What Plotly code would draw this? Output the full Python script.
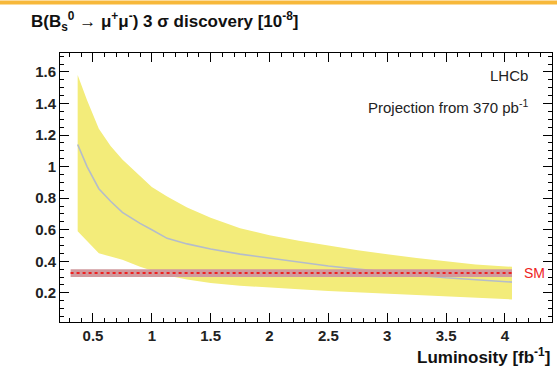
import plotly.graph_objects as go

# Luminosity [fb^-1]
lumi = [0.37, 0.45, 0.55, 0.65, 0.75, 0.9, 1.0, 1.13, 1.3, 1.5, 1.75, 2.0, 2.25, 2.5, 2.75, 3.0, 3.25, 3.5, 3.75, 4.06]
central = [1.14, 1.0, 0.86, 0.78, 0.71, 0.64, 0.6, 0.545, 0.51, 0.478, 0.445, 0.42, 0.395, 0.37, 0.35, 0.33, 0.312, 0.295, 0.282, 0.268]
upper = [1.58, 1.42, 1.24, 1.13, 1.045, 0.94, 0.87, 0.81, 0.74, 0.675, 0.61, 0.565, 0.53, 0.5, 0.47, 0.445, 0.42, 0.4, 0.38, 0.365]
lower = [0.59, 0.53, 0.45, 0.43, 0.41, 0.365, 0.34, 0.31, 0.285, 0.262, 0.245, 0.232, 0.222, 0.212, 0.203, 0.195, 0.185, 0.177, 0.168, 0.158]

# Standard Model prediction band
sm_x = [0.31, 4.06]
sm_center = [0.325, 0.325]
sm_low = [0.30, 0.30]
sm_high = [0.35, 0.35]

x_ticks = [0.5, 1, 1.5, 2, 2.5, 3, 3.5, 4]
x_ticklabels = ["0.5", "1", "1.5", "2", "2.5", "3", "3.5", "4"]
y_ticks = [0.2, 0.4, 0.6, 0.8, 1.0, 1.2, 1.4, 1.6]
y_ticklabels = ["0.2", "0.4", "0.6", "0.8", "1", "1.2", "1.4", "1.6"]

fig = go.Figure()

# Yellow uncertainty band
fig.add_trace(go.Scatter(x=lumi, y=lower, mode="lines", line=dict(width=0, color="#f3ec7a"),
                         showlegend=False, hoverinfo="skip"))
fig.add_trace(go.Scatter(x=lumi, y=upper, mode="lines", line=dict(width=0, color="#f3ec7a"),
                         fill="tonexty", fillcolor="#f3ec7a", showlegend=False, hoverinfo="skip"))
# Central line
fig.add_trace(go.Scatter(x=lumi, y=central, mode="lines", line=dict(width=1.6, color="#b4bccb"),
                         showlegend=False))
# SM band
fig.add_trace(go.Scatter(x=sm_x, y=sm_low, mode="lines", line=dict(width=0, color="#cf9a9c"),
                         showlegend=False, hoverinfo="skip"))
fig.add_trace(go.Scatter(x=sm_x, y=sm_high, mode="lines", line=dict(width=0, color="#cf9a9c"),
                         fill="tonexty", fillcolor="#d09a9e", showlegend=False, hoverinfo="skip"))
fig.add_trace(go.Scatter(x=sm_x, y=sm_center, mode="lines", line=dict(width=2, color="#ee2222", dash="dot"),
                         showlegend=False))

axis_common = dict(showline=True, linecolor="black", linewidth=1, mirror="ticks",
                   ticks="inside", tickcolor="black", ticklen=9, tickwidth=1,
                   showgrid=False, zeroline=False,
                   tickfont=dict(family="Liberation Sans, Arial", size=15, color="#222", weight="bold"))

fig.update_xaxes(range=[0.22, 4.4], tickvals=x_ticks, ticktext=x_ticklabels,
                 minor=dict(dtick=0.1, ticks="inside", ticklen=4, tickcolor="black", showgrid=False),
                 **axis_common)
fig.update_yaxes(range=[0.015, 1.72], tickvals=y_ticks, ticktext=y_ticklabels,
                 minor=dict(dtick=0.05, ticks="inside", ticklen=4, tickcolor="black", showgrid=False),
                 **axis_common)

fig.update_layout(
    width=557, height=366,
    margin=dict(l=60, r=5, t=53, b=44),
    plot_bgcolor="white", paper_bgcolor="white",
    showlegend=False,
)

# top orange rule
fig.add_shape(type="line", xref="paper", yref="paper", x0=-0.13, x1=1.02, y0=1.188, y1=1.188,
              line=dict(color="#f7b83a", width=4))

fig.add_annotation(xref="paper", yref="paper", x=-0.062, y=1.062, xanchor="left", yanchor="bottom",
                   text="B(B<sub>s</sub><sup>0</sup> → μ<sup>+</sup>μ<sup>-</sup>) 3 σ discovery [10<sup>-8</sup>]",
                   showarrow=False, font=dict(family="Liberation Sans, Arial", size=17, color="#111", weight="bold"))
fig.add_annotation(xref="paper", yref="paper", x=1.0, y=-0.125, xanchor="right", yanchor="middle",
                   text="Luminosity [fb<sup>-1</sup>]",
                   showarrow=False, font=dict(family="Liberation Sans, Arial", size=17, color="#111", weight="bold"))
fig.add_annotation(xref="paper", yref="paper", x=0.955, y=0.915, xanchor="right", yanchor="middle",
                   text="LHCb", showarrow=False,
                   font=dict(family="Liberation Sans, Arial", size=15, color="#222"))
fig.add_annotation(xref="paper", yref="paper", x=0.955, y=0.80, xanchor="right", yanchor="middle",
                   text="Projection from 370 pb<sup>-1</sup>", showarrow=False,
                   font=dict(family="Liberation Sans, Arial", size=15, color="#222"))
fig.add_annotation(xref="paper", yref="y", x=0.965, y=0.325, xanchor="center", yanchor="middle",
                   text="SM", showarrow=False,
                   font=dict(family="Liberation Sans, Arial", size=14, color="#ee2222"))

fig.write_html("out.html", config={"displayModeBar": False},
               post_script="document.body.style.margin='0';document.body.style.overflow='hidden';")
